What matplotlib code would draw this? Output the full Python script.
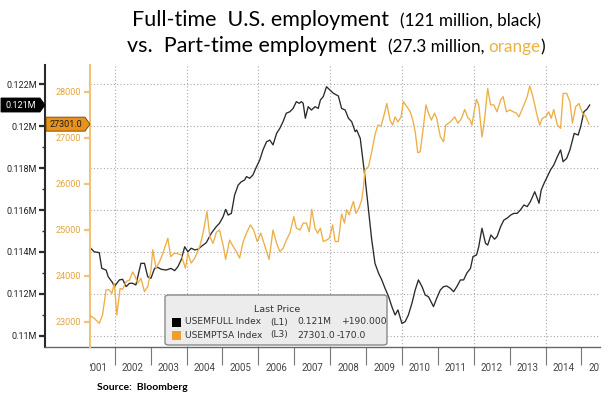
import numpy as np
import matplotlib.pyplot as plt
import matplotlib.transforms as mtransforms
from matplotlib.patches import Polygon, Rectangle, FancyBboxPatch
from matplotlib.offsetbox import TextArea, HPacker, AnnotationBbox
from matplotlib.ticker import FuncFormatter, MultipleLocator

plt.rcParams['font.family'] = 'Roboto'

# full-time employment, thousands (USEMFULL)
full_t = [2001.29, 2001.43, 2001.57, 2001.64, 2001.76, 2001.82, 2001.94, 2001.99, 2002.13, 2002.22,
          2002.32, 2002.41, 2002.50, 2002.59, 2002.73, 2002.83, 2002.92, 2003.01, 2003.11, 2003.20,
          2003.29, 2003.43, 2003.57, 2003.67, 2003.76, 2003.85, 2003.95, 2004.04, 2004.13, 2004.23,
          2004.32, 2004.46, 2004.55, 2004.69, 2004.83, 2004.92, 2005.02, 2005.09, 2005.16, 2005.25,
          2005.34, 2005.44, 2005.53, 2005.62, 2005.67, 2005.76, 2005.85, 2005.95, 2006.04, 2006.13,
          2006.23, 2006.32, 2006.41, 2006.51, 2006.60, 2006.69, 2006.78, 2006.88, 2006.97, 2007.06,
          2007.14, 2007.20, 2007.25, 2007.31, 2007.39, 2007.48, 2007.58, 2007.67, 2007.73, 2007.81,
          2007.90, 2008.00, 2008.09, 2008.23, 2008.32, 2008.42, 2008.51, 2008.60, 2008.70, 2008.74,
          2008.84, 2008.88, 2008.97, 2009.07, 2009.16, 2009.25, 2009.35, 2009.44, 2009.53, 2009.63,
          2009.72, 2009.81, 2009.89, 2010.00, 2010.09, 2010.18, 2010.28, 2010.37, 2010.46, 2010.56,
          2010.65, 2010.74, 2010.88, 2010.97, 2011.07, 2011.16, 2011.25, 2011.35, 2011.44, 2011.53,
          2011.63, 2011.72, 2011.81, 2011.91, 2011.98, 2012.08, 2012.14, 2012.23, 2012.33, 2012.39,
          2012.48, 2012.58, 2012.65, 2012.75, 2012.84, 2012.93, 2013.03, 2013.12, 2013.21, 2013.30,
          2013.40, 2013.49, 2013.58, 2013.70, 2013.77, 2013.82, 2013.88, 2013.96, 2014.05, 2014.14,
          2014.23, 2014.33, 2014.42, 2014.49, 2014.59, 2014.68, 2014.80, 2014.91, 2014.98, 2015.07,
          2015.16, 2015.23]
full_v = [114250, 114010, 113970, 113220, 113140, 112820, 112540, 112350, 112670, 112700,
          112350, 112510, 112510, 112430, 113460, 113460, 112820, 112750, 113220, 113270,
          113180, 113140, 113220, 113110, 113300, 113620, 114250, 114010, 114180, 114100,
          114130, 114330, 114440, 114890, 115210, 115370, 115680, 116030, 115760, 115840,
          116710, 117190, 117350, 117430, 117590, 117510, 117670, 118060, 118380, 118860,
          119250, 119330, 119100, 119650, 119890, 120210, 120610, 120680, 120840, 121160,
          121080, 121160, 121080, 120370, 120920, 120760, 120920, 120840, 121240, 121400,
          121870, 121710, 121560, 121430, 120840, 120760, 120370, 120210, 119730, 119810,
          119410, 118860, 117590, 116000, 114570, 113460, 112990, 112670, 112270, 111870,
          111400, 111000, 111240, 110600, 110680, 111000, 111560, 112190, 112670, 112350,
          111950, 111870, 111400, 111800, 112190, 112350, 112380, 112270, 112110, 112350,
          112670, 112670, 113000, 113220, 113780, 113860, 114250, 115130, 114410, 114330,
          114810, 114610, 114730, 115210, 115520, 115610, 115760, 115840, 115840, 116000,
          116240, 116160, 116400, 116870, 116560, 116320, 116950, 117270, 117590, 117910,
          118140, 118540, 118860, 118300, 118460, 118860, 119650, 119570, 119970, 120680,
          120810, 121000]

# part-time employment, thousands (USEMPTSA)
part_t = [2001.29, 2001.43, 2001.57, 2001.66, 2001.76, 2001.85, 2001.92, 2001.99, 2002.06, 2002.15,
          2002.22, 2002.32, 2002.41, 2002.50, 2002.57, 2002.64, 2002.73, 2002.83, 2002.92, 2003.01,
          2003.06, 2003.15, 2003.25, 2003.34, 2003.48, 2003.56, 2003.65, 2003.74, 2003.85, 2003.97,
          2004.04, 2004.13, 2004.23, 2004.37, 2004.46, 2004.57, 2004.65, 2004.74, 2004.83, 2004.92,
          2005.02, 2005.09, 2005.20, 2005.30, 2005.39, 2005.48, 2005.58, 2005.67, 2005.78, 2005.87,
          2005.97, 2006.07, 2006.13, 2006.23, 2006.30, 2006.41, 2006.51, 2006.60, 2006.69, 2006.78,
          2006.88, 2006.99, 2007.06, 2007.16, 2007.25, 2007.34, 2007.42, 2007.49, 2007.58, 2007.65,
          2007.73, 2007.81, 2007.90, 2007.98, 2008.07, 2008.14, 2008.23, 2008.32, 2008.40, 2008.46,
          2008.53, 2008.60, 2008.65, 2008.72, 2008.80, 2008.88, 2008.93, 2008.97, 2009.07, 2009.16,
          2009.25, 2009.33, 2009.42, 2009.49, 2009.58, 2009.67, 2009.74, 2009.81, 2009.89, 2009.98,
          2010.04, 2010.14, 2010.23, 2010.29, 2010.37, 2010.44, 2010.51, 2010.60, 2010.67, 2010.74,
          2010.82, 2010.91, 2010.97, 2011.07, 2011.16, 2011.22, 2011.35, 2011.47, 2011.56, 2011.66,
          2011.75, 2011.84, 2011.89, 2011.95, 2012.02, 2012.08, 2012.14, 2012.23, 2012.30, 2012.39,
          2012.47, 2012.56, 2012.65, 2012.75, 2012.82, 2012.91, 2013.01, 2013.10, 2013.19, 2013.26,
          2013.40, 2013.49, 2013.56, 2013.65, 2013.75, 2013.84, 2013.91, 2014.00, 2014.09, 2014.16,
          2014.23, 2014.33, 2014.42, 2014.49, 2014.59, 2014.68, 2014.75, 2014.84, 2014.93, 2015.03,
          2015.12, 2015.21]
part_v = [23150, 23080, 22970, 23150, 23700, 23700, 23620, 23840, 23150, 23730,
          23710, 23880, 23910, 24090, 23990, 23840, 23950, 23660, 23770, 24130,
          24570, 24170, 24310, 24490, 24820, 24420, 24490, 24490, 24460, 24170,
          24490, 24280, 24390, 24640, 24930, 25400, 24850, 24710, 24950, 25000,
          24670, 24360, 24780, 24640, 24530, 24390, 24750, 24930, 25110, 25000,
          24750, 24930, 24780, 24530, 24360, 25000, 24710, 24530, 24600, 24780,
          24930, 25290, 25040, 25000, 25150, 25150, 24960, 25450, 25040, 24930,
          25040, 24750, 24780, 24820, 25110, 24750, 24750, 25350, 25150, 25440,
          25330, 25510, 25620, 25360, 25470, 25650, 25940, 26300, 26380, 26700,
          27070, 27280, 27260, 27460, 27750, 27390, 27280, 27460, 27350, 27460,
          27790, 27680, 27570, 27430, 27140, 26680, 26700, 27250, 27720, 27540,
          27390, 27540, 27430, 27030, 26920, 27280, 27350, 27460, 27320, 27430,
          27620, 27430, 27410, 27280, 27610, 27840, 27720, 27020, 27390, 28080,
          27720, 27720, 27570, 27830, 27900, 27570, 27610, 27570, 27540, 27460,
          27720, 27900, 28130, 27900, 27540, 27280, 27430, 27460, 27570, 27430,
          27620, 27280, 27210, 27970, 27970, 27790, 27320, 27680, 27750, 27540,
          27471, 27301]

years = list(range(2001, 2016))
full_name = 'USEMFULL Index'
part_name = 'USEMPTSA Index'

BLACK = '#2a2a2a'
ORANGE = '#eeae45'
ORANGE_AX = '#f0c27a'
TAG_ORANGE = '#e8921e'
GRID = '#a8a8a8'
XMIN, XMAX = 2001.312, 2015.518

W, H = 609, 397
fig = plt.figure(figsize=(W / 100, H / 100), dpi=100)
ax = fig.add_axes([90 / W, 50 / H, 510 / W, 282 / H])

ax.plot(full_t, full_v, color=BLACK, lw=0.95, zorder=3)

for s in ['top', 'right']:
    ax.spines[s].set_visible(False)
ax.spines['left'].set_position(('outward', 45 * 0.72))
ax.spines['left'].set_color(BLACK)
ax.spines['left'].set_linewidth(1.5)
ax.spines['bottom'].set_color('#666666')
ax.spines['bottom'].set_linewidth(1.0)

ax.yaxis.set_major_locator(MultipleLocator(2000))
ax.yaxis.set_minor_locator(MultipleLocator(1000))
ax.yaxis.set_major_formatter(FuncFormatter(lambda v, p: f'{v / 1e6:g}M'))
ax.tick_params(axis='y', which='major', direction='out', length=4, width=1.6,
               color=BLACK, labelsize=6.5, labelcolor='#222222', pad=1.5)
ax.tick_params(axis='y', which='minor', direction='out', length=2, width=1.0, color=BLACK)
ax.yaxis.grid(True, which='major', ls=(0, (1, 2)), lw=0.8, color=GRID)

ax.set_xticks(years)
ax.tick_params(axis='x', direction='out', length=13, width=0.8, color='#777777',
               labelbottom=False)
for yr in years:
    if yr % 2 == 0:
        ax.axvline(yr, ls=(0, (1, 2)), lw=0.8, color=GRID, zorder=1)
# limits after the ticks, so set_xticks does not widen them
ax.set_xlim(XMIN, XMAX)
ax.set_ylim(109476, 122905)
ax.spines['bottom'].set_bounds(XMIN - 45 / 35.9, XMAX)

# year labels centred between the year ticks, clipped at the plot edges
xlab = mtransforms.blended_transform_factory(ax.transData, ax.transAxes)
clip = Rectangle((0, -0.3), 1, 0.3, transform=ax.transAxes)
for yr in years:
    t = ax.text(yr + 0.5, -0.0745, str(yr), transform=xlab, ha='center', va='center',
                fontsize=7, color='#444444', clip_on=True)
    t.set_clip_path(clip)

# part-time axis, also on the left
ax2 = ax.twinx()
ax2.set_ylim(22456, 28587)
ax2.plot(part_t, part_v, color=ORANGE, lw=0.95, zorder=3)
for s in ['top', 'right', 'bottom']:
    ax2.spines[s].set_visible(False)
ax2.spines['left'].set_visible(True)
ax2.spines['left'].set_color(ORANGE_AX)
ax2.spines['left'].set_linewidth(1.5)
ax2.yaxis.tick_left()
ax2.yaxis.set_major_locator(MultipleLocator(1000))
ax2.yaxis.set_major_formatter(FuncFormatter(lambda v, p: f'{v:.0f}'))
ax2.tick_params(axis='y', direction='out', length=4, width=1.6, color=ORANGE_AX,
                labelsize=6.5, labelcolor='#e3a53c', pad=2.5)


def tag(y_ax, x_axes, value, text, fc, tc, ec):
    anchor = mtransforms.ScaledTranslation(
        x_axes, value, mtransforms.blended_transform_factory(ax.transAxes, y_ax.transData))
    tr = mtransforms.Affine2D() + anchor
    w, h, tip = 44, 14, 5
    fig.add_artist(Polygon([(0, 0), (-tip, h / 2), (-w, h / 2), (-w, -h / 2), (-tip, -h / 2)],
                           closed=True, fc=fc, ec=ec, lw=0.6, transform=tr, zorder=6))
    fig.text(-(w + tip) / 2, 0, text, transform=tr, ha='center', va='center',
             fontsize=6.5, color=tc, zorder=7)


tag(ax, -45 / 510, full_v[-1], f'{full_v[-1] / 1e6:.3f}M', 'black', 'white', 'black')
tag(ax2, 0, part_v[-1], f'{part_v[-1]:.1f}', TAG_ORANGE, '#1a1a1a', '#6b4300')

# "Last Price" box
ax2.add_patch(FancyBboxPatch((75 / 510, 2 / 282), 222 / 510, 50 / 282,
                             boxstyle='round,pad=0,rounding_size=0.008',
                             transform=ax.transAxes, fc='#ececec', ec='#8a8a8a', lw=1.0,
                             zorder=8, clip_on=False))
ax2.text(187 / 510, 38 / 282, 'Last Price', transform=ax.transAxes, ha='center', va='center',
         fontsize=6.8, color='#333333', family='DejaVu Sans', zorder=9)
rows = [
    (full_name, '(L1)', f'{full_v[-1] / 1e6:.3f}M', f'{full_v[-1] - full_v[-2]:+.3f}', 'black', 252 / 510, 25 / 282),
    (part_name, '(L3)', f'{part_v[-1]:.1f}', f'{part_v[-1] - part_v[-2]:+.1f}', '#f0a02a', 247 / 510, 12 / 282),
]
for name, lab, val, chg, col, xchg, yr_ in rows:
    ax2.add_patch(Rectangle((82 / 510, yr_ - 4.5 / 282), 9 / 510, 9 / 282, transform=ax.transAxes,
                            fc=col, ec='none', zorder=9, clip_on=False))
    for x, s in [(95 / 510, name), (180 / 510, lab), (207 / 510, val), (xchg, chg)]:
        ax2.text(x, yr_, s, transform=ax.transAxes, ha='left', va='center', fontsize=6.6,
                 color='#333333', family='DejaVu Sans', zorder=9)


def title_line(parts, y):
    boxes = [TextArea(s, textprops=dict(fontsize=fs, color=c, family='Lato')) for s, fs, c in parts]
    pack = HPacker(children=boxes, align='baseline', pad=0, sep=0)
    fig.add_artist(AnnotationBbox(pack, (336 / W, y), xycoords='figure fraction',
                                  frameon=False, box_alignment=(0.5, 0.5)))


title_line([('Full-time  U.S. employment  ', 15.5, 'black'),
            ('(121 million, black)', 12.3, 'black')], 1 - 20 / H)
title_line([('vs.  Part-time employment  ', 15.5, 'black'),
            ('(27.3 million, ', 12.3, 'black'), ('orange', 12.3, '#e9b444'),
            (')', 12.3, 'black')], 1 - 46 / H)

fig.text(97 / W, 1 - 387 / H, 'Source:  Bloomberg', fontsize=7.5, weight='bold',
         family='Lato', va='center', color='black')

fig.savefig('out.png', dpi=100)
